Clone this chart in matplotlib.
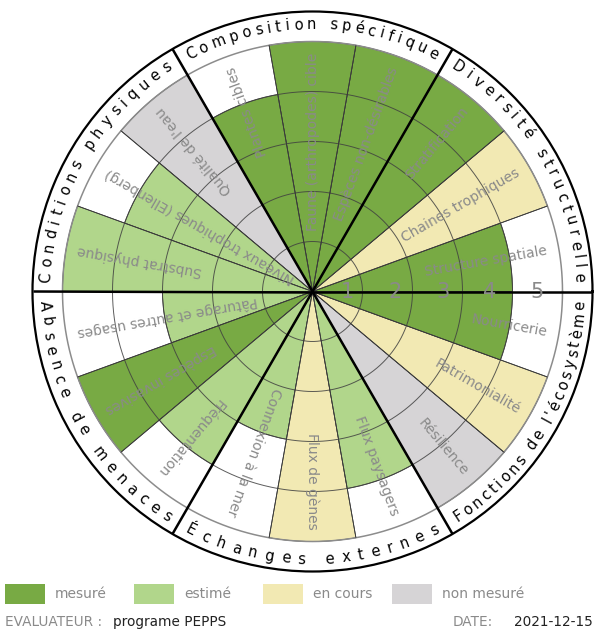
import numpy as np
import matplotlib
matplotlib.use("Agg")
import matplotlib.pyplot as plt
from matplotlib.patches import Rectangle
from matplotlib.font_manager import FontProperties, findfont, get_font

# Indicators, listed counter-clockwise starting from the east
indicators = ["Structure spatiale", "Chaines trophiques", "Stratification",
              "Espèces non-désirables", "Faune (arthropodes) cible", "Plantes cibles",
              "Qualité de l'eau", "Niveaux trophiques (Ellenberg)", "Substrat physique",
              "Pâturage et autres usages", "Espèces invasives", "Fréquentation",
              "Connexion à la mer", "Flux de gènes", "Flux paysagers",
              "Résilience", "Patrimonialité", "Nourricerie"]
scores = [4, 5, 5, 5, 5, 4, 5, 4, 5, 3, 5, 4, 3, 5, 4, 5, 5, 4]
status = ["mesuré", "en cours", "mesuré", "mesuré", "mesuré", "mesuré",
          "non mesuré", "estimé", "estimé", "estimé", "mesuré", "estimé",
          "estimé", "en cours", "estimé", "non mesuré", "en cours", "mesuré"]
groups = ["Diversité structurelle", "Composition spécifique", "Conditions physiques",
          "Absence de menaces", "Échanges externes", "Fonctions de l'écosystème"]
status_labels = ["mesuré", "estimé", "en cours", "non mesuré"]
status_colors = ["#78aa44", "#b1d68b", "#f2e9b3", "#d6d4d6"]
scale_ticks = [1, 2, 3, 4, 5]
evaluator = "programe PEPPS"
date = "2021-12-15"

W, H = 594, 630
GREY = "#8a8a8a"
fig = plt.figure(figsize=(W / 100, H / 100), dpi=100)

# polar axes: centre and outer radius in pixels
cx, cy, R = 312.5, 291.5, 280.0
RMAX = 5.6
ax = fig.add_axes([(cx - R) / W, (H - cy - R) / H, 2 * R / W, 2 * R / H],
                  projection="polar")
ax.set_theta_zero_location("E")
ax.set_theta_direction(1)
ax.set_ylim(0, RMAX)
ax.set_xticks([])
ax.set_yticks([])
ax.grid(False)
ax.spines["polar"].set_linewidth(1.6)
ax.spines["polar"].set_color("black")

n = len(indicators)
step = 2 * np.pi / n
theta = np.arange(n) * step + step / 2
colmap = dict(zip(status_labels, status_colors))

ax.bar(theta, scores, width=step, bottom=0,
       color=[colmap[s] for s in status],
       edgecolor="#3a3a3a", linewidth=0.6, zorder=2)

# concentric scale rings
tt = np.linspace(0, 2 * np.pi, 721)
for r in scale_ticks[:-1]:
    ax.plot(tt, np.full_like(tt, r), color="#404040", lw=0.7, alpha=0.85, zorder=3)
ax.plot(tt, np.full_like(tt, scale_ticks[-1]), color="#8c8c8c", lw=1.1, zorder=3)

# thin separators between indicators
for a in np.arange(n) * step:
    ax.plot([a, a], [0, scale_ticks[-1]], color="#3a3a3a", lw=0.6, zorder=3)

# thick separators between groups
ng = len(groups)
for a in np.arange(ng) * 2 * np.pi / ng:
    ax.plot([a, a], [0, RMAX], color="black", lw=1.8, zorder=4,
            solid_capstyle="butt")

# indicator names, radial, ending near the outer ring
for th, name in zip(theta, indicators):
    ax.text(th, 4.77, name, rotation=np.degrees(th), rotation_mode="anchor",
            ha="right", va="center", fontsize=10, color=GREY, zorder=6)

# scale numbers along the east axis
for t in scale_ticks:
    ax.text(0, t * 0.95 - 0.25, str(t), ha="center", va="center",
            fontsize=15, color=GREY, zorder=6)

# group names, letter by letter along the outer band
GFS = 10.5
fp = FontProperties(family="DejaVu Sans", size=GFS)
font = get_font(findfont(fp))
font.set_size(GFS, 100)


def advance(ch):
    return font.load_char(ord(ch)).linearHoriAdvance / 65536.0


SPAN = np.radians(54)
r_px = 267.0
for k, label in enumerate(groups):
    mid = np.radians(30 + 60 * k)
    w = np.array([advance(c) for c in label])
    centers = np.cumsum(w) - w / 2
    m = len(label)
    arc_len = SPAN * r_px
    track = (arc_len - (centers[-1] - centers[0])) / (m - 1)
    pos = centers - centers[0] + np.arange(m) * track
    offs = (pos - arc_len / 2) / r_px
    if np.sin(mid) > 0:
        angles = mid - offs
        rots = np.degrees(angles) - 90
        rb = 5.25
    else:
        angles = mid + offs
        rots = np.degrees(angles) + 90
        rb = 5.45
    for ch, a, rt in zip(label, angles, rots):
        if ch == " ":
            continue
        ax.text(a, rb, ch, rotation=rt, rotation_mode="anchor", ha="center",
                va="baseline", fontsize=GFS, color="black", zorder=6)

# legend
for i, (lab, col) in enumerate(zip(status_labels, status_colors)):
    x0 = 5 + i * 129
    fig.patches.append(Rectangle((x0 / W, (H - 604) / H), 40 / W, 20 / H,
                                 transform=fig.transFigure, facecolor=col,
                                 edgecolor="none"))
    fig.text((x0 + 50) / W, (H - 594) / H, lab, ha="left", va="center",
             fontsize=10, color=GREY)

# footer
fy = (H - 622) / H
FFS = 9.8
fig.text(5 / W, fy, "EVALUATEUR :", ha="left", va="center", fontsize=FFS, color=GREY)
fig.text(113 / W, fy, evaluator, ha="left", va="center", fontsize=FFS, color="#222222")
fig.text(453 / W, fy, "DATE:", ha="left", va="center", fontsize=FFS, color=GREY)
fig.text(593 / W, fy, date, ha="right", va="center", fontsize=FFS, color="#222222")

fig.savefig("out.png", dpi=100)
